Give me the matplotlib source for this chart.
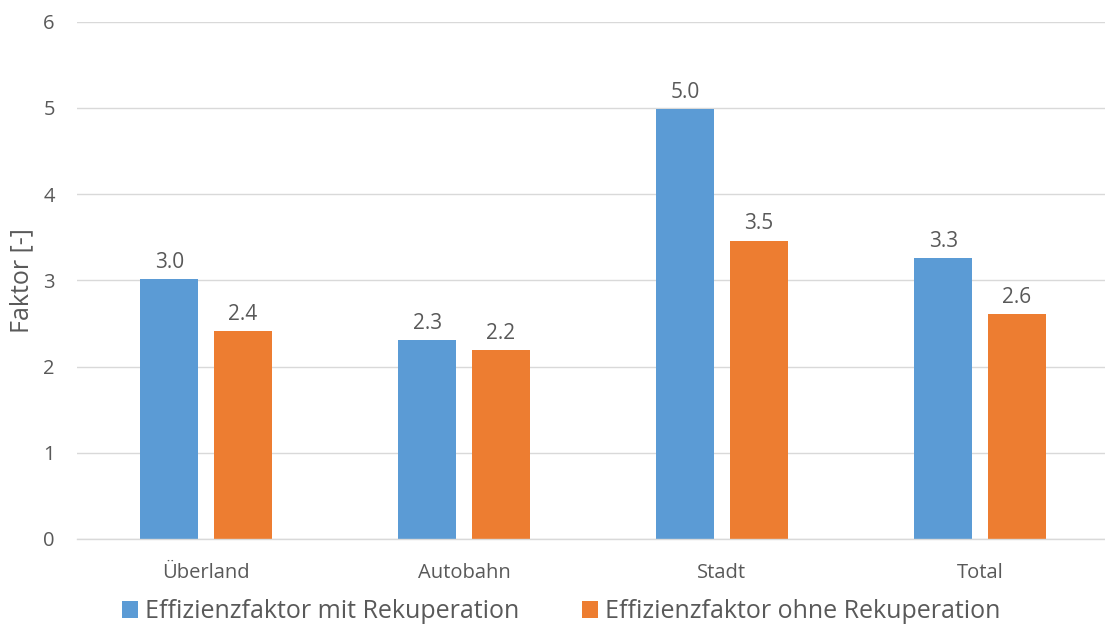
import matplotlib
matplotlib.use("Agg")
import matplotlib.pyplot as plt
import numpy as np
from matplotlib.patches import Patch

categories = ["Überland", "Autobahn", "Stadt", "Total"]
mit_rekuperation = [3.01, 2.31, 4.99, 3.26]
ohne_rekuperation = [2.41, 2.19, 3.46, 2.61]
series_names = ["Effizienzfaktor mit Rekuperation", "Effizienzfaktor ohne Rekuperation"]
y_ticks = [0, 1, 2, 3, 4, 5, 6]

BLUE = "#5B9BD5"
ORANGE = "#ED7D31"
TEXT = "#595959"
GRID = "#D9D9D9"

plt.rcParams["font.family"] = ["Open Sans", "DejaVu Sans"]

W, H = 1105, 626
fig = plt.figure(figsize=(W / 100, H / 100), dpi=100)
ax = fig.add_axes([77 / W, 87 / H, 1032 / W, 517.3 / H])

x = np.arange(len(categories))
bw = 0.225
off = 0.1426
b1 = ax.bar(x - off, mit_rekuperation, bw, color=BLUE, zorder=3)
b2 = ax.bar(x + off, ohne_rekuperation, bw, color=ORANGE, zorder=3)

for bars, vals in ((b1, mit_rekuperation), (b2, ohne_rekuperation)):
    for rect, v in zip(bars, vals):
        ax.annotate(f"{v:.1f}", (rect.get_x() + rect.get_width() / 2, v),
                    xytext=(0, 4.5), textcoords="offset points",
                    ha="center", va="bottom", fontsize=15, color=TEXT)

ax.set_xlim(-0.5, len(categories) - 0.5)
ax.set_ylim(0, 6)
ax.set_yticks(y_ticks)
ax.set_xticks(x)
ax.set_xticklabels(categories)
ax.tick_params(axis="both", length=0, labelsize=14.5, labelcolor=TEXT)
ax.tick_params(axis="x", pad=17)
ax.tick_params(axis="y", pad=16)
ax.yaxis.grid(True, color=GRID, linewidth=1, zorder=0)
for s in ("top", "right", "left"):
    ax.spines[s].set_visible(False)
ax.spines["bottom"].set_color(GRID)
ax.spines["bottom"].set_linewidth(1)
ax.spines["bottom"].set_zorder(4)

fig.text(22 / W, 1 - 281 / H, "Faktor [-]", rotation=90, ha="center", va="center",
         fontsize=18, color=TEXT)

handles = [Patch(facecolor=BLUE), Patch(facecolor=ORANGE)]
leg = fig.legend(handles, series_names, loc="center", bbox_to_anchor=(561 / W, 1 - 612 / H),
                 ncol=2, frameon=False, fontsize=18, handlelength=0.64, handleheight=0.64,
                 handletextpad=0.28, columnspacing=2.5, labelcolor=TEXT,
                 borderpad=0, borderaxespad=0)

fig.savefig("out.png", dpi=100)
